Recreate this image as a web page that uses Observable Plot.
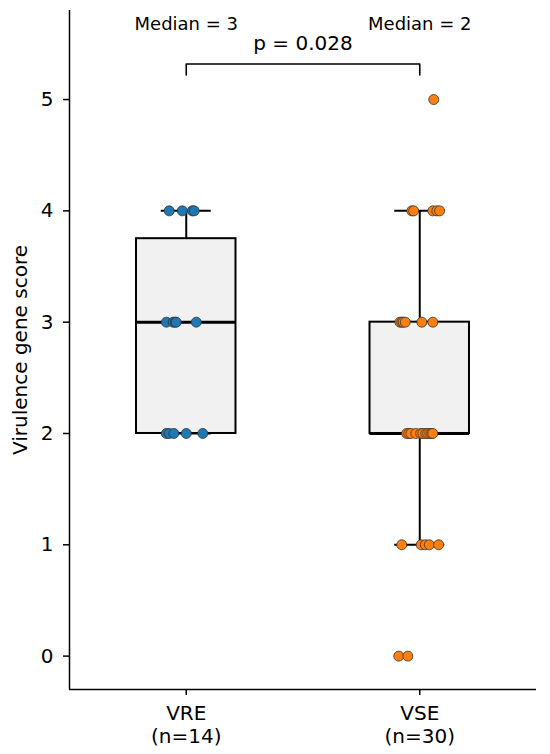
<!DOCTYPE html>
<html><head><meta charset="utf-8">
<script src="https://cdn.jsdelivr.net/npm/d3@7"></script>
<script src="https://cdn.jsdelivr.net/npm/@observablehq/plot@0.6"></script>
<style>body{margin:0;background:#fff}</style>
</head><body><div id="chart"></div>
<script>
// ---- data ----
const groups = ["VRE", "VSE"];
const groupLabels = ["VRE\n(n=14)", "VSE\n(n=30)"];
const vreScores = [2,2,2,2,2, 3,3,3,3,3, 4,4,4,4];
const vreJitter = [-0.085,-0.073,-0.053,0.000,0.071, -0.085,-0.056,-0.047,-0.043,0.043, -0.073,-0.017,0.026,0.034];
const vseScores = [0,0, 1,1,1,1,1, 2,2,2,2,2,2,2,2,2,2,2, 3,3,3,3,3,3, 4,4,4,4,4, 5];
const vseJitter = [-0.090,-0.051, -0.077,0.006,0.024,0.041,0.081,
  -0.056,-0.047,-0.038,-0.017,0.004,0.013,0.026,0.034,0.043,0.051,0.056,
  -0.085,-0.077,-0.071,-0.062,0.009,0.056,
  -0.034,-0.026,0.056,0.073,0.085, 0.060];
const yTicks = [0, 1, 2, 3, 4, 5];
const medianLabels = ["Median = 3", "Median = 2"];
const pLabel = "p = 0.028";
const colors = ["#1f77b4", "#ff7f0e"];

// ---- derived tables ----
const allScores = [vreScores, vseScores];
const allJitter = [vreJitter, vseJitter];
const points = allScores.flatMap((s, g) => s.map((v, k) => ({g, score: v, jitter: allJitter[g][k]})));
const stats = allScores.map((s, g) => {
  const v = s.slice().sort(d3.ascending);
  const q1 = d3.quantile(v, 0.25), med = d3.quantile(v, 0.5), q3 = d3.quantile(v, 0.75);
  const iqr = q3 - q1;
  const lo = d3.min(v.filter(d => d >= q1 - 1.5 * iqr));
  const hi = d3.max(v.filter(d => d <= q3 + 1.5 * iqr));
  return {g, q1, med, q3, lo, hi};
});

const halfBox = 0.213, halfCap = 0.107;
const medY = 5.68, pY = 5.50, brTop = 5.32, brBot = 5.22;
const bracket = [{x: 0, y: brBot}, {x: 0, y: brTop}, {x: 1, y: brTop}, {x: 1, y: brBot}];
const font = "DejaVu Sans, sans-serif";

const chart = Plot.plot({
  width: 550, height: 754,
  marginLeft: 69, marginRight: 14, marginTop: 10, marginBottom: 65,
  style: {fontFamily: font, fontSize: "20px", color: "black", background: "white"},
  x: {domain: [-0.5, 1.5]},
  y: {domain: [-0.3, 5.8]},
  marks: [
    Plot.ruleX([-0.5], {strokeWidth: 1.5}),
    Plot.ruleY([-0.3], {strokeWidth: 1.5}),
    Plot.rect(stats, {x1: d => d.g - halfBox, x2: d => d.g + halfBox, y1: "q1", y2: "q3", fill: "#f1f1f1", stroke: "black", strokeWidth: 2}),
    Plot.ruleX(stats, {x: "g", y1: "q3", y2: "hi", strokeWidth: 2}),
    Plot.ruleX(stats, {x: "g", y1: "lo", y2: "q1", strokeWidth: 2}),
    Plot.ruleY(stats, {y: "hi", x1: d => d.g - halfCap, x2: d => d.g + halfCap, strokeWidth: 2}),
    Plot.ruleY(stats, {y: "lo", x1: d => d.g - halfCap, x2: d => d.g + halfCap, strokeWidth: 2}),
    Plot.ruleY(stats, {y: "med", x1: d => d.g - halfBox, x2: d => d.g + halfBox, strokeWidth: 3}),
    Plot.dot(points, {x: d => d.g + d.jitter, y: "score", r: 5, fill: d => colors[d.g], stroke: "#333", strokeWidth: 0.8}),
    Plot.line(bracket, {x: "x", y: "y", stroke: "black", strokeWidth: 1.6}),
    Plot.text(stats, {x: "g", y: () => medY, text: d => medianLabels[d.g], fontSize: 18}),
    Plot.text([pLabel], {x: 0.5, y: pY, text: d => d, fontSize: 20}),
    Plot.axisY({ticks: yTicks, tickFormat: "d", tickSize: 6, tickPadding: 10, strokeWidth: 1.5, fontSize: 20,
      label: "Virulence gene score", labelAnchor: "center", labelArrow: "none", labelOffset: 57}),
    Plot.axisX({ticks: [0, 1], tickFormat: d => groupLabels[d], tickSize: 6, tickPadding: 8, strokeWidth: 1.5, fontSize: 20, lineHeight: 1.15, label: null})
  ]
});
document.getElementById("chart").appendChild(chart);
</script>
</body></html>
